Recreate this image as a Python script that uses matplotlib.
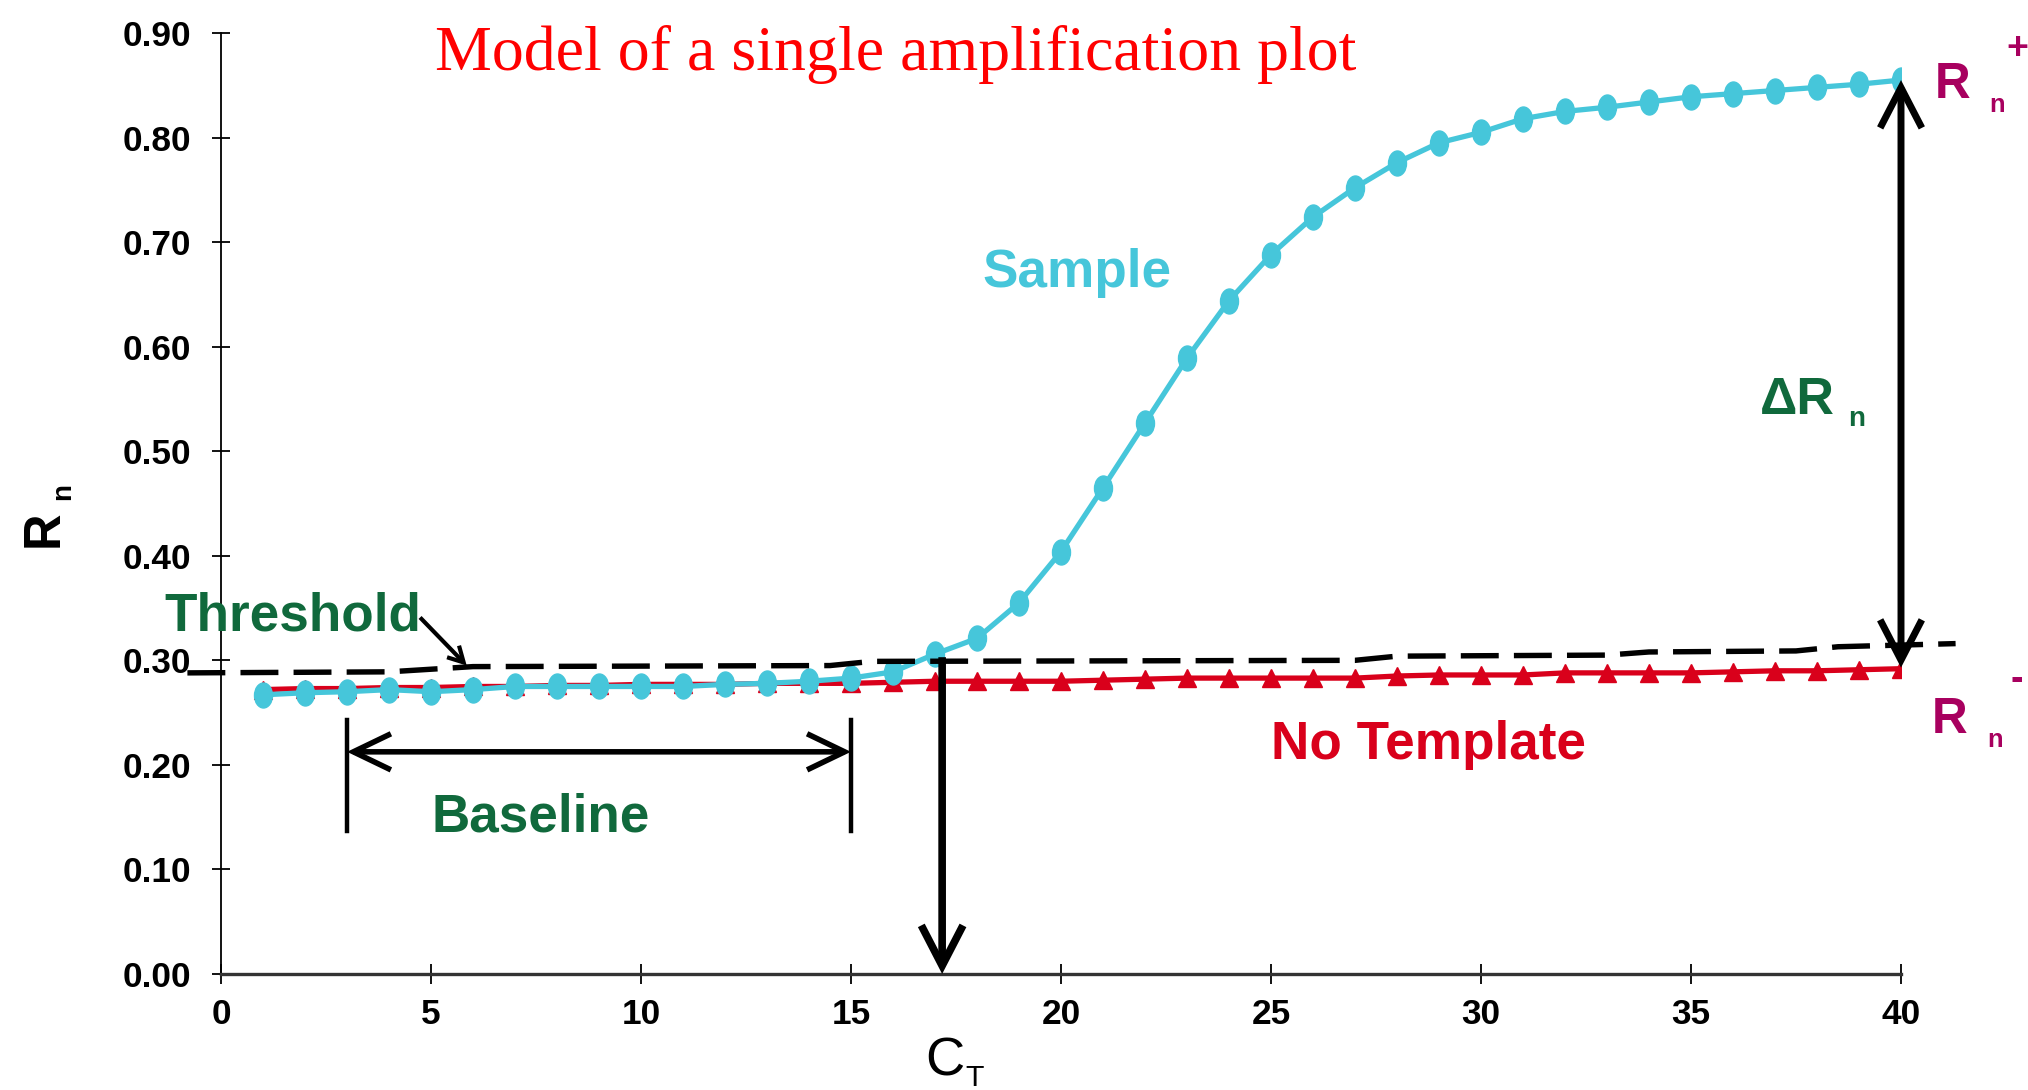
import matplotlib
matplotlib.use("Agg")
import matplotlib.pyplot as plt
from matplotlib import font_manager as fm
from matplotlib.patches import FancyArrowPatch, ArrowStyle
from matplotlib.path import Path
from matplotlib.transforms import Affine2D

# ---- data -------------------------------------------------------------
cycles = list(range(1, 41))
sample_rn = [0.267, 0.269, 0.270, 0.272, 0.270, 0.272, 0.275, 0.275, 0.275, 0.275,
             0.275, 0.277, 0.278, 0.280, 0.283, 0.289, 0.306, 0.321, 0.355, 0.404,
             0.465, 0.527, 0.589, 0.644, 0.688, 0.724, 0.752, 0.776, 0.795, 0.805,
             0.818, 0.825, 0.829, 0.834, 0.839, 0.842, 0.845, 0.848, 0.851, 0.855]
no_template_rn = [0.272, 0.273, 0.273, 0.274, 0.274, 0.275, 0.275, 0.276, 0.276, 0.277,
                  0.277, 0.277, 0.278, 0.278, 0.278, 0.279, 0.280, 0.280, 0.280, 0.280,
                  0.281, 0.282, 0.283, 0.283, 0.283, 0.283, 0.283, 0.285, 0.286, 0.286,
                  0.286, 0.288, 0.288, 0.288, 0.288, 0.289, 0.290, 0.290, 0.291, 0.292]
threshold_x = [-0.8, 4.0, 6.0, 14.5, 15.5, 27.0, 28.0, 33.0, 34.0, 37.5, 38.5, 41.3]
threshold_y = [0.288, 0.289, 0.294, 0.295, 0.299, 0.300, 0.304, 0.305, 0.308, 0.309, 0.313, 0.316]
ct_value = 17.17
baseline_start, baseline_end = 3, 15
x_ticks = [0, 5, 10, 15, 20, 25, 30, 35, 40]
y_ticks = [0.0, 0.1, 0.2, 0.3, 0.4, 0.5, 0.6, 0.7, 0.8, 0.9]

# ---- style -------------------------------------------------------------
CYAN = "#46C6DA"
RED = "#D9001B"
GREEN = "#10693C"
MAGENTA = "#A8005F"

available = {f.name for f in fm.fontManager.ttflist}
HAS_NARROW = "Liberation Sans Narrow" in available
NARROW = "Liberation Sans Narrow" if HAS_NARROW else "Liberation Sans"
# the regular face is wider, so it is set a little smaller
K = 1.0 if HAS_NARROW else 0.87
SERIF = "Liberation Serif"

fig = plt.figure(figsize=(20.28, 10.9), dpi=100)
ax = fig.add_axes([221 / 2028, 116 / 1090, 1680 / 2028, 941 / 1090])
ax.set_xlim(0, 40)
ax.set_ylim(0, 0.9)

for s in ("top", "right"):
    ax.spines[s].set_visible(False)
ax.spines["left"].set_linewidth(1.3)
ax.spines["bottom"].set_linewidth(2.4)
ax.spines["bottom"].set_color("#333333")

ax.set_xticks(x_ticks)
ax.set_yticks(y_ticks)
ax.set_yticklabels([f"{v:.2f}" for v in y_ticks])
ax.tick_params(axis="both", direction="inout", width=1.3, labelsize=28 * K + 1)
ax.tick_params(axis="y", length=13, pad=15)
ax.tick_params(axis="x", length=15, pad=10)
for lab in ax.get_xticklabels() + ax.get_yticklabels():
    lab.set_fontfamily(NARROW)
    lab.set_fontweight("bold")

# tall ellipse marker for the sample curve
ellipse = Path.unit_circle().transformed(Affine2D().scale(0.72, 1.0))

ax.plot(cycles, no_template_rn, color=RED, lw=3.8, marker="^", ms=13,
        mec=RED, mfc=RED, zorder=3)
ax.plot(cycles, sample_rn, color=CYAN, lw=3.8, marker=ellipse, ms=18,
        mec=CYAN, mfc=CYAN, zorder=4)
ax.plot(threshold_x, threshold_y, color="black", lw=3.9, dashes=(7, 2.8),
        zorder=5, clip_on=False)


def arrow(p0, p1, style, hl, hw, lw):
    a = FancyArrowPatch(p0, p1, arrowstyle=ArrowStyle(style, head_length=hl, head_width=hw),
                        mutation_scale=1, lw=lw, color="black", shrinkA=0, shrinkB=0,
                        capstyle="butt", joinstyle="miter", zorder=6, clip_on=False)
    ax.add_patch(a)


# Ct drop line
arrow((ct_value, 0.303), (ct_value, 0.0), "->", 29, 15, 5.5)
# delta Rn span
arrow((40, no_template_rn[-1] + 0.001), (40, sample_rn[-1]), "<->", 29, 15, 5.0)
# baseline range
arrow((baseline_start, 0.2125), (baseline_end, 0.2125), "<->", 27, 13, 4.0)
for bx in (baseline_start, baseline_end):
    ax.plot([bx, bx], [0.137, 0.243], color="black", lw=3.2, zorder=6)
# threshold pointer
arrow((4.74, 0.341), (5.85, 0.295), "->", 11, 6, 3.0)

# ---- labels -------------------------------------------------------------
lbl = dict(family=NARROW, weight="bold", fontsize=44 * K, va="baseline")
ax.text(-1.36, 0.329, "Threshold", color=GREEN, ha="left", clip_on=False, **lbl)
ax.text(7.62, 0.136, "Baseline", color=GREEN, ha="center", **lbl)
ax.text(20.38, 0.657, "Sample", color=CYAN, ha="center", **lbl)
ax.text(28.76, 0.206, "No Template", color=RED, ha="center", **lbl)

ax.text(36.64, 0.536, "ΔR", color=GREEN, ha="left", va="baseline",
        family=NARROW, weight="bold", fontsize=43 * K)
ax.text(38.74, 0.524, "n", color=GREEN, ha="left", va="baseline",
        family=NARROW, weight="bold", fontsize=23 * K)

ax.text(40.8, 0.838, "R", color=MAGENTA, ha="left", va="baseline",
        family=NARROW, weight="bold", fontsize=41 * K, clip_on=False)
ax.text(42.1, 0.824, "n", color=MAGENTA, ha="left", va="baseline",
        family=NARROW, weight="bold", fontsize=21 * K, clip_on=False)
ax.text(42.5, 0.885, "+", color=MAGENTA, ha="left", va="center",
        family="Liberation Sans", weight="bold", fontsize=27, clip_on=False)

ax.text(40.74, 0.2305, "R", color=MAGENTA, ha="left", va="baseline",
        family=NARROW, weight="bold", fontsize=41 * K, clip_on=False)
ax.text(42.05, 0.217, "n", color=MAGENTA, ha="left", va="baseline",
        family=NARROW, weight="bold", fontsize=21 * K, clip_on=False)
ax.text(42.6, 0.281, "-", color=MAGENTA, ha="left", va="center",
        family="Liberation Sans", weight="bold", fontsize=27, clip_on=False)

# axis titles
fig.text(58 / 2028, (1090 - 547) / 1090, "R", rotation=90, rotation_mode="anchor",
         ha="left", va="baseline", family=NARROW, weight="bold", fontsize=42 * K)
fig.text(70 / 2028, (1090 - 500) / 1090, "n", rotation=90, rotation_mode="anchor",
         ha="left", va="baseline", family=NARROW, weight="bold", fontsize=23 * K)
fig.text(925 / 2028, (1090 - 1075) / 1090, "C", ha="left", va="baseline",
         family=NARROW, fontsize=45 * K)
fig.text(965 / 2028, (1090 - 1086) / 1090, "T", ha="left", va="baseline",
         family=NARROW, fontsize=25 * K)

fig.text(435 / 2028, (1090 - 70) / 1090, "Model of a single amplification plot",
         color="#FF0000", family=SERIF, fontsize=46, ha="left", va="baseline")

fig.savefig("out.png", dpi=100, facecolor="white")
